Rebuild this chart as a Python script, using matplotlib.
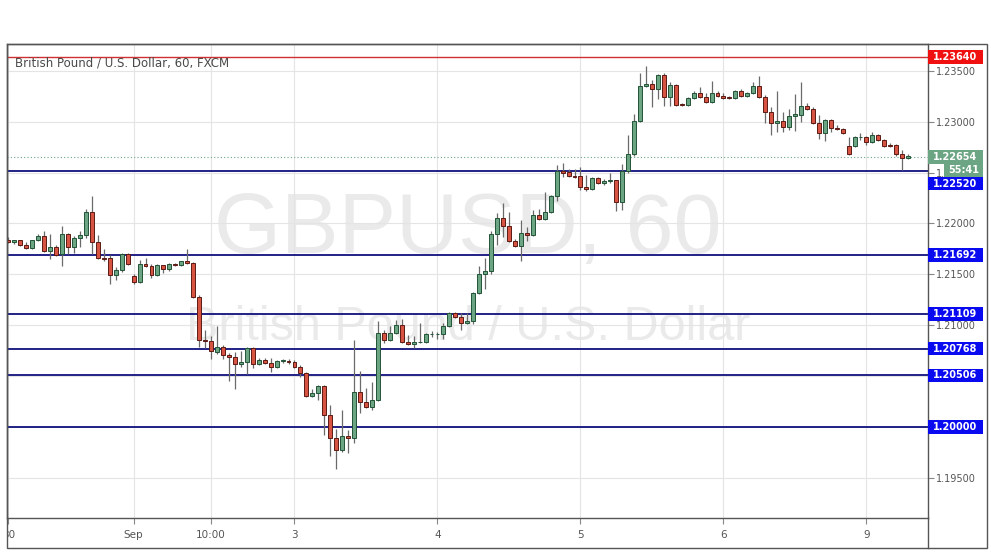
import matplotlib
matplotlib.use('Agg')
import matplotlib.pyplot as plt
import numpy as np
from matplotlib.patches import Rectangle
from matplotlib.transforms import blended_transform_factory, Bbox, TransformedBbox

# hourly GBPUSD candles, Aug 30 00:00 -> Sep 9 07:00 (weekend skipped)
opens = [1.2184, 1.2182, 1.2184, 1.2179, 1.2176, 1.2184, 1.2188, 1.2173, 1.2177, 1.2170,
         1.2190, 1.2177, 1.2186, 1.2189, 1.2211, 1.2182, 1.2166, 1.2166, 1.2149, 1.2154,
         1.2170, 1.2148, 1.2142, 1.2160, 1.2158, 1.2149, 1.2159, 1.2155, 1.2160, 1.2159,
         1.2163, 1.2161, 1.2128, 1.2085, 1.2084, 1.2074, 1.2078, 1.2071, 1.2069, 1.2062,
         1.2064, 1.2077, 1.2062, 1.2066, 1.2063, 1.2059, 1.2065, 1.2065, 1.2064, 1.2059,
         1.2053, 1.2030, 1.2033, 1.2040, 1.2012, 1.1989, 1.1977, 1.1991, 1.1989, 1.2034,
         1.2024, 1.2019, 1.2026, 1.2092, 1.2085, 1.2092, 1.2100, 1.2083, 1.2081, 1.2083,
         1.2083, 1.2091, 1.2091, 1.2091, 1.2099, 1.2112, 1.2108, 1.2102, 1.2104, 1.2132,
         1.2150, 1.2153, 1.2190, 1.2205, 1.2198, 1.2183, 1.2178, 1.2191, 1.2189, 1.2208,
         1.2204, 1.2211, 1.2227, 1.2252, 1.2251, 1.2247, 1.2247, 1.2236, 1.2234, 1.2245,
         1.2240, 1.2242, 1.2243, 1.2221, 1.2252, 1.2268, 1.2301, 1.2335, 1.2337, 1.2332,
         1.2346, 1.2324, 1.2336, 1.2318, 1.2317, 1.2323, 1.2328, 1.2324, 1.2320, 1.2328,
         1.2325, 1.2324, 1.2323, 1.2330, 1.2325, 1.2328, 1.2335, 1.2324, 1.2310, 1.2299,
         1.2301, 1.2295, 1.2306, 1.2307, 1.2316, 1.2313, 1.2299, 1.2289, 1.2302, 1.2294,
         1.2293, 1.2276, 1.2276, 1.2285, 1.2285, 1.2280, 1.2287, 1.2282, 1.2277, 1.2277,
         1.2268, 1.2264]
highs = [1.2187, 1.2184, 1.2184, 1.2182, 1.2184, 1.2190, 1.2193, 1.2190, 1.2179, 1.2198,
         1.2191, 1.2188, 1.2193, 1.2214, 1.2227, 1.2189, 1.2175, 1.2169, 1.2157, 1.2171,
         1.2171, 1.2150, 1.2164, 1.2166, 1.2160, 1.2160, 1.2159, 1.2161, 1.2161, 1.2163,
         1.2175, 1.2162, 1.2130, 1.2095, 1.2089, 1.2099, 1.2080, 1.2073, 1.2074, 1.2075,
         1.2078, 1.2078, 1.2068, 1.2068, 1.2068, 1.2066, 1.2067, 1.2067, 1.2066, 1.2061,
         1.2054, 1.2037, 1.2041, 1.2041, 1.2021, 1.1998, 1.2016, 1.1997, 1.2085, 1.2055,
         1.2038, 1.2044, 1.2104, 1.2095, 1.2099, 1.2105, 1.2106, 1.2090, 1.2089, 1.2102,
         1.2092, 1.2094, 1.2093, 1.2102, 1.2113, 1.2113, 1.2112, 1.2112, 1.2133, 1.2158,
         1.2166, 1.2193, 1.2210, 1.2220, 1.2211, 1.2185, 1.2203, 1.2197, 1.2213, 1.2214,
         1.2231, 1.2228, 1.2258, 1.2260, 1.2254, 1.2254, 1.2256, 1.2248, 1.2246, 1.2246,
         1.2244, 1.2250, 1.2243, 1.2259, 1.2287, 1.2308, 1.2348, 1.2355, 1.2341, 1.2347,
         1.2348, 1.2339, 1.2337, 1.2319, 1.2324, 1.2330, 1.2334, 1.2328, 1.2340, 1.2330,
         1.2328, 1.2325, 1.2331, 1.2332, 1.2329, 1.2339, 1.2345, 1.2326, 1.2315, 1.2330,
         1.2310, 1.2313, 1.2327, 1.2339, 1.2319, 1.2315, 1.2307, 1.2303, 1.2303, 1.2297,
         1.2294, 1.2285, 1.2286, 1.2289, 1.2286, 1.2290, 1.2288, 1.2283, 1.2279, 1.2278,
         1.2272, 1.2268]
lows = [1.2181, 1.2180, 1.2178, 1.2175, 1.2175, 1.2183, 1.2172, 1.2165, 1.2168, 1.2158,
        1.2170, 1.2171, 1.2177, 1.2186, 1.2170, 1.2165, 1.2163, 1.2140, 1.2144, 1.2152,
        1.2159, 1.2140, 1.2141, 1.2157, 1.2146, 1.2148, 1.2151, 1.2153, 1.2158, 1.2158,
        1.2160, 1.2127, 1.2078, 1.2077, 1.2067, 1.2072, 1.2067, 1.2045, 1.2037, 1.2059,
        1.2052, 1.2058, 1.2061, 1.2062, 1.2054, 1.2058, 1.2063, 1.2062, 1.2058, 1.2049,
        1.2029, 1.2029, 1.2026, 1.1992, 1.1971, 1.1958, 1.1975, 1.1974, 1.1984, 1.2014,
        1.2018, 1.2016, 1.2025, 1.2082, 1.2084, 1.2091, 1.2082, 1.2080, 1.2077, 1.2082,
        1.2082, 1.2088, 1.2086, 1.2086, 1.2098, 1.2107, 1.2095, 1.2101, 1.2101, 1.2131,
        1.2136, 1.2150, 1.2179, 1.2187, 1.2182, 1.2177, 1.2163, 1.2183, 1.2188, 1.2203,
        1.2203, 1.2210, 1.2222, 1.2246, 1.2246, 1.2245, 1.2233, 1.2232, 1.2233, 1.2239,
        1.2238, 1.2240, 1.2212, 1.2213, 1.2250, 1.2266, 1.2300, 1.2334, 1.2315, 1.2322,
        1.2316, 1.2316, 1.2316, 1.2316, 1.2316, 1.2322, 1.2323, 1.2319, 1.2319, 1.2324,
        1.2322, 1.2322, 1.2322, 1.2324, 1.2324, 1.2327, 1.2323, 1.2299, 1.2287, 1.2290,
        1.2290, 1.2292, 1.2291, 1.2300, 1.2312, 1.2298, 1.2283, 1.2281, 1.2290, 1.2292,
        1.2288, 1.2267, 1.2275, 1.2282, 1.2277, 1.2279, 1.2281, 1.2275, 1.2275, 1.2266,
        1.2253, 1.2263]
closes = [1.2182, 1.2184, 1.2179, 1.2176, 1.2184, 1.2188, 1.2173, 1.2177, 1.2169, 1.2190,
          1.2177, 1.2186, 1.2189, 1.2211, 1.2182, 1.2166, 1.2165, 1.2149, 1.2154, 1.2170,
          1.2160, 1.2142, 1.2160, 1.2158, 1.2149, 1.2159, 1.2155, 1.2160, 1.2159, 1.2163,
          1.2161, 1.2128, 1.2085, 1.2084, 1.2075, 1.2078, 1.2071, 1.2069, 1.2062, 1.2064,
          1.2077, 1.2062, 1.2066, 1.2063, 1.2059, 1.2065, 1.2065, 1.2064, 1.2059, 1.2053,
          1.2030, 1.2033, 1.2040, 1.2012, 1.1989, 1.1977, 1.1991, 1.1989, 1.2034, 1.2024,
          1.2019, 1.2026, 1.2092, 1.2085, 1.2092, 1.2100, 1.2083, 1.2081, 1.2083, 1.2083,
          1.2091, 1.2091, 1.2091, 1.2099, 1.2112, 1.2108, 1.2102, 1.2104, 1.2132, 1.2150,
          1.2153, 1.2190, 1.2205, 1.2198, 1.2183, 1.2178, 1.2191, 1.2189, 1.2208, 1.2204,
          1.2211, 1.2227, 1.2252, 1.2250, 1.2247, 1.2246, 1.2236, 1.2234, 1.2245, 1.2240,
          1.2242, 1.2243, 1.2221, 1.2252, 1.2268, 1.2301, 1.2335, 1.2337, 1.2332, 1.2346,
          1.2324, 1.2336, 1.2317, 1.2317, 1.2323, 1.2328, 1.2324, 1.2320, 1.2328, 1.2325,
          1.2323, 1.2323, 1.2330, 1.2325, 1.2328, 1.2335, 1.2324, 1.2310, 1.2299, 1.2301,
          1.2295, 1.2306, 1.2308, 1.2316, 1.2313, 1.2299, 1.2289, 1.2302, 1.2294, 1.2293,
          1.2289, 1.2268, 1.2285, 1.2285, 1.2280, 1.2287, 1.2282, 1.2276, 1.2276, 1.2268,
          1.2264, 1.2266]

tick_pos = [0, 21, 34, 48, 72, 96, 120, 144]
tick_labels = ['30', 'Sep', '10:00', '3', '4', '5', '6', '9']

support_levels = [1.22520, 1.21692, 1.21109, 1.20768, 1.20506, 1.20000]
resistance = 1.23640
last_price = 1.22654
countdown = '55:41'

W, H = 991, 556
fig = plt.figure(figsize=(W / 100, H / 100), dpi=100)
ax = fig.add_axes([7 / W, 1 - 518 / H, (928 - 7) / W, (518 - 44) / H])
ax.set_facecolor('none')

o = np.array(opens)
h = np.array(highs)
l = np.array(lows)
c = np.array(closes)
x = np.arange(len(o))
up = c >= o

# watermark
fig.text(468 / W, 1 - 253 / H, 'GBPUSD, 60', ha='center', va='baseline',
         fontsize=62, family='Liberation Sans', color='#eaeaea', zorder=-1)
fig.text(468 / W, 1 - 340 / H, 'British Pound / U.S. Dollar', ha='center', va='baseline',
         fontsize=35, family='Liberation Sans', color='#eaeaea', zorder=-1)

ax.vlines(x, l, h, color='#6a6a6a', lw=0.9, zorder=2)
body = np.maximum(np.abs(c - o), 0.00003)
ax.bar(x, body, bottom=np.minimum(o, c), width=0.66,
       color=np.where(up, '#6ba583', '#d75442'),
       edgecolor=np.where(up, '#225437', '#5b1a13'), linewidth=0.7, zorder=3)

for lev in support_levels:
    ax.axhline(lev, color='#10107e', lw=1.3, zorder=1.5)
ax.axhline(resistance, color='#d03030', lw=1.0, zorder=1.5)
ax.axhline(last_price, color='#6ba583', lw=0.8, ls=(0, (1, 2)), zorder=1.5)

ax.set_xlim(-0.25, 154.33)
ax.set_ylim(1.19102, 1.23766)
yt = np.arange(1.195, 1.2351, 0.005)
ax.set_yticks(yt)
# labels under the 1.20000 / 1.20506 boxes are hidden on the original
ax.set_yticklabels(['' if abs(v - 1.2) < 1e-6 or abs(v - 1.205) < 1e-6 else '%.5f' % v for v in yt])
ax.yaxis.tick_right()
ax.set_xticks(tick_pos)
ax.set_xticklabels(tick_labels)
ax.tick_params(axis='y', direction='out', length=4, color='#888888', labelcolor='#555555',
               labelsize=7, pad=2)
ax.tick_params(axis='x', direction='out', length=4, color='#888888', labelcolor='#555555',
               labelsize=7.5, pad=5)
ax.grid(True, color='#e4e4e4', lw=0.8, zorder=0)
ax.set_axisbelow(True)
for s in ax.spines.values():
    s.set_color('#555555')
    s.set_linewidth(1)

# clip the cut-off "30" label at the frame
clip = TransformedBbox(Bbox([[7 / W, 0], [1, 1]]), fig.transFigure)
for t in ax.get_xticklabels():
    if t.get_text() == '30':
        t.set_clip_box(clip)
        t.set_clip_on(True)

# outer frame and axis separators
fig.add_artist(Rectangle((7 / W, 1 - 548 / H), (987 - 7) / W, (548 - 44) / H,
                         transform=fig.transFigure, fill=False, ec='#555555', lw=1, zorder=4))
fig.add_artist(plt.Line2D([928 / W, 928 / W], [1 - 548 / H, 1 - 518 / H],
                          transform=fig.transFigure, color='#555555', lw=1, zorder=4))

fig.text(15 / W, 1 - 66 / H, 'British Pound / U.S. Dollar, 60, FXCM', ha='left', va='baseline',
         fontsize=8.5, color='#4a4a4a', zorder=6)

# price labels on the scale
tr = blended_transform_factory(fig.transFigure, ax.transData)
px = 0.0000984
boxes = [(resistance, '%.5f' % resistance, '#f01010', 928, 983),
         (last_price, '%.5f' % last_price, '#6ba583', 928, 983),
         (last_price - 13.3 * px, countdown, '#6ba583', 944, 983),
         (last_price - 26.6 * px, '%.5f' % support_levels[0], '#0a0af0', 928, 983)]
for lev in support_levels[1:]:
    boxes.append((lev, '%.5f' % lev, '#0a0af0', 928, 983))
for yc, txt, col, x0, x1 in boxes:
    fig.add_artist(Rectangle((x0 / W, yc - 6.8 * px), (x1 - x0) / W, 13.6 * px,
                             transform=tr, fc=col, ec='none', zorder=5))
    fig.text((x0 + x1) / 2 / W, yc, txt, transform=tr, ha='center', va='center',
             fontsize=7, fontweight='bold', color='white', zorder=6)

fig.savefig('out.png', dpi=100)
